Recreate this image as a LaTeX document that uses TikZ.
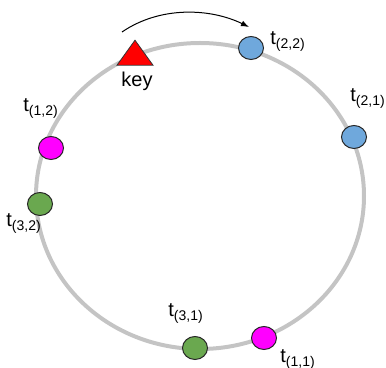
\documentclass[tikz,border=0pt]{standalone}
\usepackage{fontspec}
\setmainfont{Liberation Sans}
\usetikzlibrary{arrows.meta,positioning,shapes.geometric}
\definecolor{tokblue}{HTML}{6FA8DC}
\definecolor{tokpink}{HTML}{FF00FF}
\definecolor{tokgreen}{HTML}{6AA84F}
\definecolor{ringgray}{HTML}{C4C4C4}

\begin{document}
\begin{tikzpicture}[
  x=0.5pt, y=-0.5pt,
  ring/.style={draw=ringgray, line width=2pt},
  tok/.style={draw=black!85, ellipse, line width=0.5pt, minimum width=12.5pt, minimum height=11.5pt, inner sep=0pt},
  keymark/.style={isosceles triangle, isosceles triangle stretches, minimum width=18pt, minimum height=12.5pt, inner sep=0pt, rotate=90, fill=red, draw=black!80, line width=0.4pt},
  lbl/.style={anchor=base west, inner sep=0pt, font=\fontsize{10}{12}\selectfont},
  arr/.style={-{Latex[length=4pt,width=3pt]}, line width=0.5pt}
]
\useasboundingbox (0,0) rectangle (386,368);
% the ring
\coordinate (ctr) at (200,196);
\draw[ring] (ctr) ellipse [x radius=82pt, y radius=76.5pt];
% tokens on the ring
\node[tok, fill=tokblue] (t22) at (251,48) {};
\node[tok, fill=tokblue] (t21) at (354,137) {};
\node[tok, fill=tokpink] (t12) at (51,148) {};
\node[tok, fill=tokgreen] (t32) at (40,204) {};
\node[tok, fill=tokgreen] (t31) at (195,348) {};
\node[tok, fill=tokpink] (t11) at (264,338) {};
\node[keymark] (key) at (135,56) {};
\node[lbl, anchor=base] (keylbl) at (137,87) {key};
% labels
\node[lbl] (l22) at (270,45) {t\textsubscript{(2,2)}};
\node[lbl] (l21) at (350,102) {t\textsubscript{(2,1)}};
\node[lbl] (l12) at (23,112) {t\textsubscript{(1,2)}};
\node[lbl] (l32) at (6,227) {t\textsubscript{(3,2)}};
\node[lbl] (l31) at (168,317) {t\textsubscript{(3,1)}};
\node[lbl] (l11) at (280,363) {t\textsubscript{(1,1)}};
% lookup direction
\coordinate (sweep0) at (122,32);
\coordinate (sweep1) at (249,27);
\draw[arr] (sweep0) .. controls (160,6) and (210,8) .. (sweep1);
\end{tikzpicture}
\end{document}
